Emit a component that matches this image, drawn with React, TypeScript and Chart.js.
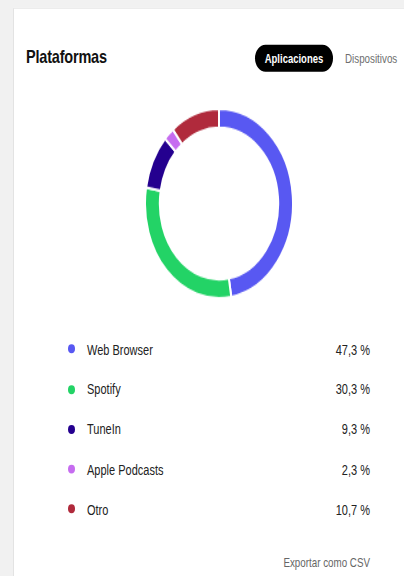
import React, { useEffect, useRef } from "react";
import { Chart, registerables } from "chart.js";

Chart.register(...registerables);

const title = "Plataformas";
const tabs = ["Aplicaciones", "Dispositivos"];
const categories = ["Web Browser", "Spotify", "TuneIn", "Apple Podcasts", "Otro"];
const values = [47.3, 30.3, 9.3, 2.3, 10.7];
const valueLabels = ["47,3 %", "30,3 %", "9,3 %", "2,3 %", "10,7 %"];
const colors = ["#5858f2", "#23d366", "#24008f", "#c66cf0", "#b02a3c"];
const exportLabel = "Exportar como CSV";

const S = 1.28;
const FONT = "'Liberation Sans', Arial, sans-serif";

export default function App() {
  const ref = useRef<HTMLCanvasElement | null>(null);

  useEffect(() => {
    if (!ref.current) return;
    const chart = new Chart(ref.current, {
      type: "doughnut",
      data: {
        labels: categories,
        datasets: [
          {
            data: values,
            backgroundColor: colors,
            borderColor: "#ffffff",
            borderWidth: 2,
            hoverOffset: 0,
          },
        ],
      },
      options: {
        responsive: false,
        animation: false,
        cutout: "80%",
        layout: { padding: 0 },
        plugins: {
          legend: { display: false },
          tooltip: { enabled: false },
        },
      },
    });
    return () => chart.destroy();
  }, []);

  return (
    <div
      style={{
        position: "absolute",
        left: 0,
        top: 0,
        width: 404,
        height: 576,
        overflow: "hidden",
        background: "#ffffff",
        fontFamily: FONT,
      }}
    >
      <div
        style={{
          position: "absolute",
          left: 0,
          top: 0,
          width: 404,
          height: 576 / S,
          transform: `scaleY(${S})`,
          transformOrigin: "0 0",
          background: "#f1f1f1",
        }}
      >
        {/* card */}
        <div
          style={{
            position: "absolute",
            left: 13,
            top: 6.3,
            right: -10,
            bottom: -10,
            background: "#ffffff",
            borderLeft: "1px solid #e3e3e3",
            borderTop: "1px solid #ececec",
          }}
        />
        <div
          style={{
            position: "absolute",
            left: 26,
            top: 36,
            fontSize: 14.5,
            fontWeight: 700,
            color: "#111",
            letterSpacing: -0.2,
          }}
        >
          {title}
        </div>
        <div
          style={{
            position: "absolute",
            left: 255,
            top: 35,
            width: 78,
            height: 21,
            borderRadius: 11,
            background: "#000",
            color: "#fff",
            fontSize: 9.5,
            fontWeight: 700,
            display: "flex",
            alignItems: "center",
            justifyContent: "center",
          }}
        >
          {tabs[0]}
        </div>
        <div
          style={{
            position: "absolute",
            left: 345,
            top: 35,
            height: 21,
            fontSize: 9.8,
            color: "#6e6e6e",
            display: "flex",
            alignItems: "center",
            whiteSpace: "nowrap",
          }}
        >
          {tabs[1]}
        </div>
        <canvas
          ref={ref}
          width={150}
          height={150}
          style={{ position: "absolute", left: 143.5, top: 83.6 }}
        />
        {categories.map((c, i) => (
          <div
            key={c}
            style={{
              position: "absolute",
              left: 60,
              width: 310,
              top: 272.7 + i * 31.3 - 8,
              height: 16,
              display: "flex",
              alignItems: "center",
              fontSize: 11,
              color: "#222",
            }}
          >
            <span
              style={{
                width: 7,
                height: 7,
                borderRadius: "50%",
                background: colors[i],
                marginLeft: 7.5,
                marginRight: 12.5,
                flex: "none",
              }}
            />
            <span style={{ flex: 1 }}>{c}</span>
            <span>{valueLabels[i]}</span>
          </div>
        ))}
        <div
          style={{
            position: "absolute",
            right: 34,
            top: 439 - 7,
            height: 14,
            fontSize: 9.8,
            color: "#666",
            display: "flex",
            alignItems: "center",
          }}
        >
          {exportLabel}
        </div>
      </div>
    </div>
  );
}
